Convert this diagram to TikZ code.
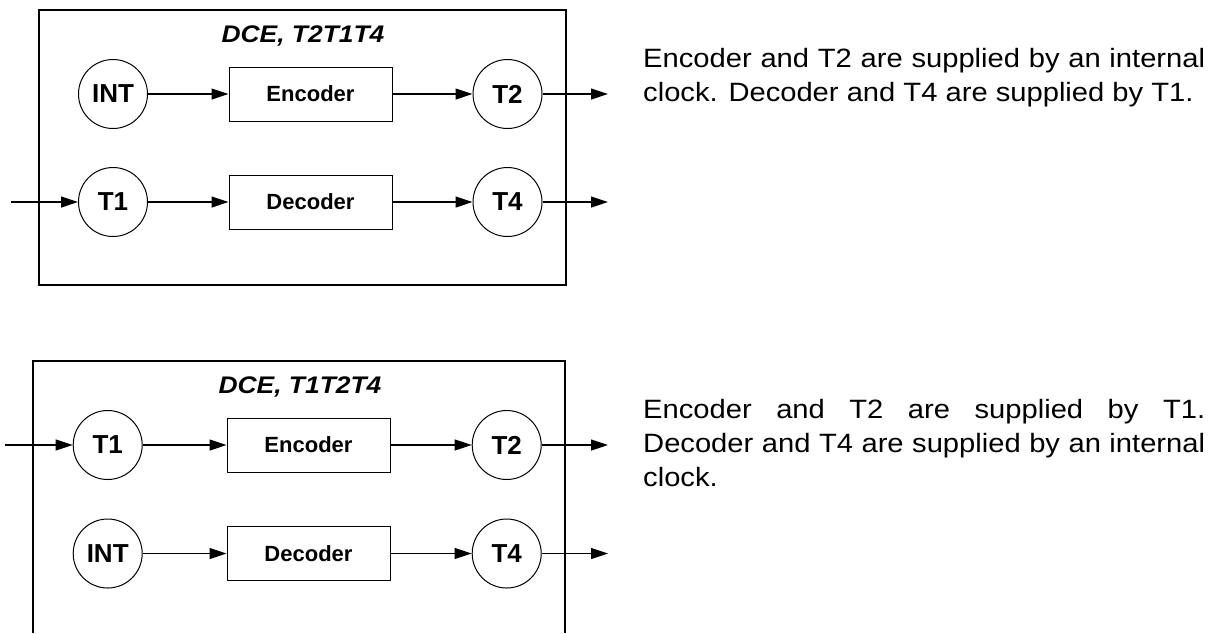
\documentclass[tikz,border=0pt]{standalone}
\usepackage{fontspec}
\setmainfont{Liberation Sans}
\newfontfamily\stretchedsans[FakeStretch=1.1]{Liberation Sans}
\usetikzlibrary{arrows.meta}
\begin{document}
\begin{tikzpicture}[x=1pt,y=-1pt,
  port/.style={circle, draw, line width=1pt, minimum size=69pt, inner sep=0pt,
    font=\fontsize{26}{30}\selectfont\bfseries},
  unit/.style={rectangle, draw, line width=1pt, minimum width=163pt, minimum height=54pt,
    inner sep=0pt, font=\fontsize{22}{26}\selectfont\bfseries},
  frame/.style={line width=1.4pt},
  flow/.style={line width=1.2pt, -{Triangle[length=17pt,width=11pt]}},
  caption/.style={font=\stretchedsans\bfseries\itshape\fontsize{24}{28}\selectfont, anchor=base},
  note/.style={inner sep=0pt, anchor=base west}]
\useasboundingbox (0,0) rectangle (1222,633);

% ---- upper mode: DCE, T2T1T4 ----
\draw[frame] (39,10) rectangle (566,285);
\node[caption] (ttlA) at (303,42) {DCE, T2T1T4};
\node[port] (intA) at (113,94) {INT};
\node[unit] (encA) at (310.5,94) {Encoder};
\node[port] (t2A) at (507.5,94) {T2};
\node[port] (t1A) at (113,202) {T1};
\node[unit] (decA) at (310.5,202) {Decoder};
\node[port] (t4A) at (507.5,202) {T4};
\coordinate (inA) at (11,202);
\coordinate (out2A) at (608,94);
\coordinate (out4A) at (608,202);
\draw[flow] (intA) -- (encA);
\draw[flow] (encA) -- (t2A);
\draw[flow] (t2A) -- (out2A);
\draw[flow] (inA) -- (t1A);
\draw[flow] (t1A) -- (decA);
\draw[flow] (decA) -- (t4A);
\draw[flow] (t4A) -- (out4A);
\node[note] (txtA) at (643,67) {\parbox[t]{562pt}{\stretchedsans\fontsize{26.5}{34}\selectfont
  Encoder and T2 are supplied by an internal\linebreak
  clock. Decoder and T4 are supplied by T1.}};

% ---- lower mode: DCE, T1T2T4 ----
\draw[frame] (33,633) -- (33,361) -- (565,361) -- (565,633);
\node[caption] (ttlB) at (300,393) {DCE, T1T2T4};
\node[port] (t1B) at (107.7,445) {T1};
\node[unit] (encB) at (308.5,445) {Encoder};
\node[port] (t2B) at (506.7,445) {T2};
\node[port] (intB) at (107.7,553.5) {INT};
\node[unit] (decB) at (308.5,553.5) {Decoder};
\node[port] (t4B) at (506.7,553.5) {T4};
\coordinate (inB) at (5,445);
\coordinate (out2B) at (608,445);
\coordinate (out4B) at (608,553.5);
\draw[flow] (inB) -- (t1B);
\draw[flow] (t1B) -- (encB);
\draw[flow] (encB) -- (t2B);
\draw[flow] (t2B) -- (out2B);
\draw[flow] (intB) -- (decB);
\draw[flow] (decB) -- (t4B);
\draw[flow] (t4B) -- (out4B);
\node[note] (txtB) at (643,418) {\parbox[t]{562pt}{\stretchedsans\fontsize{26.5}{34}\selectfont
  Encoder and T2 are supplied by T1.\linebreak
  Decoder and T4 are supplied by an internal\linebreak
  clock.}};
\end{tikzpicture}
\end{document}
